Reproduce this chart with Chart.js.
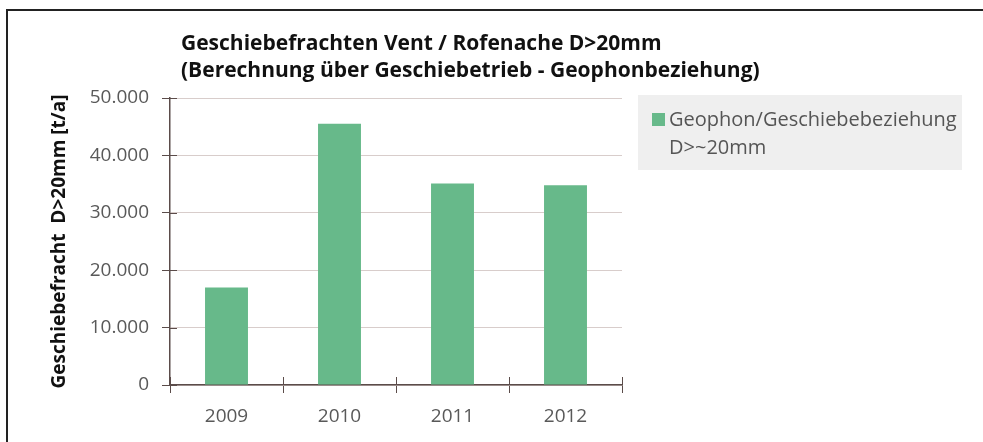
<!DOCTYPE html>
<html lang="de">
<head>
  <meta charset="UTF-8">
  <title>Geschiebefrachten Vent / Rofenache</title>
  <script src="https://cdn.jsdelivr.net/npm/chart.js"></script>
  <style>
    html, body { margin: 0; padding: 0; background: #fff; }
    #wrap { width: 983px; height: 442px; }
  </style>
</head>
<body>
  <div id="wrap"><canvas id="chart" width="983" height="442"></canvas></div>

  <script>
    // Daten
    const jahre = ['2009', '2010', '2011', '2012'];
    const fracht = [17000, 45500, 35100, 34800];
    const yTicks = [0, 10000, 20000, 30000, 40000, 50000];
    const titel = ['Geschiebefrachten Vent / Rofenache D>20mm', '(Berechnung über Geschiebetrieb - Geophonbeziehung)'];
    const legendeZeilen = ['Geophon/Geschiebebeziehung', 'D>~20mm'];
    const yTitel = 'Geschiebefracht  D>20mm [t/a]';

    const gruen = '#67b98a';
    const achse = '#5b4c4a';
    const schrift = 'Open Sans';

    // 50000 -> "50.000"
    function fmt(v) {
      return String(v).replace(/\B(?=(\d{3})+(?!\d))/g, '.');
    }

    // Rahmen, Titel, Legende und innere Tickstriche selbst zeichnen
    const deko = {
      id: 'deko',
      beforeDraw(chart) {
        const c = chart.ctx;
        c.save();
        c.fillStyle = '#fff';
        c.fillRect(0, 0, chart.width, chart.height);
        c.strokeStyle = '#222';
        c.lineWidth = 2;
        c.beginPath();
        c.moveTo(7, chart.height);
        c.lineTo(7, 10);
        c.lineTo(chart.width, 10);
        c.stroke();
        c.restore();
      },
      afterDraw(chart) {
        const c = chart.ctx;
        const xs = chart.scales.x;
        const ys = chart.scales.y;
        c.save();

        // Tickstriche nach innen
        c.strokeStyle = achse;
        c.lineWidth = 1;
        c.beginPath();
        ys.ticks.forEach(t => {
          const y = Math.round(ys.getPixelForValue(t.value)) + 0.5;
          c.moveTo(ys.right, y);
          c.lineTo(ys.right + 7, y);
        });
        for (let i = 0; i <= jahre.length; i++) {
          const x = Math.round(xs.left + i * xs.width / jahre.length) + 0.5;
          c.moveTo(x, xs.top);
          c.lineTo(x, xs.top - 8);
        }
        c.stroke();

        // Titel
        c.fillStyle = '#111';
        c.font = 'bold 21px "' + schrift + '"';
        c.textBaseline = 'alphabetic';
        c.textAlign = 'left';
        titel.forEach((t, i) => c.fillText(t, 181, 50 + i * 27));

        // Legende
        c.fillStyle = '#efefef';
        c.fillRect(638, 95, 324, 75);
        c.fillStyle = chart.data.datasets[0].backgroundColor;
        c.fillRect(652, 113, 13, 13);
        c.fillStyle = '#555';
        c.font = '20px "' + schrift + '"';
        legendeZeilen.forEach((t, i) => c.fillText(t, 669, 126 + i * 28));
        c.restore();
      }
    };

    new Chart(document.getElementById('chart'), {
      type: 'bar',
      data: {
        labels: jahre,
        datasets: [{
          label: legendeZeilen.join(' '),
          data: fracht,
          backgroundColor: gruen,
          categoryPercentage: 1,
          barPercentage: 0.38
        }]
      },
      options: {
        responsive: false,
        animation: false,
        layout: { padding: { left: 0, top: 98, right: 361, bottom: 0 } },
        plugins: {
          legend: { display: false },
          tooltip: { enabled: false }
        },
        scales: {
          x: {
            afterFit: s => { s.height = 57; },
            border: { color: achse, width: 1.5 },
            grid: { drawOnChartArea: false, offset: true, tickLength: 8, tickColor: achse },
            ticks: { color: '#595959', font: { family: schrift, size: 19 }, padding: 12 }
          },
          y: {
            min: 0,
            max: 50000,
            afterBuildTicks: s => { s.ticks = yTicks.map(v => ({ value: v })); },
            afterFit: s => { s.width = 170; },
            border: { color: achse, width: 1.5 },
            grid: { color: '#d8cdcb', lineWidth: 1, tickLength: 8, tickColor: achse },
            ticks: { color: '#595959', font: { family: schrift, size: 19 }, padding: 13, callback: v => fmt(v) },
            title: {
              display: true,
              text: yTitel,
              color: '#111',
              font: { family: schrift, size: 19, weight: 'bold' },
              padding: { top: 48, bottom: 0 }
            }
          }
        }
      },
      plugins: [deko]
    });
  </script>
</body>
</html>
